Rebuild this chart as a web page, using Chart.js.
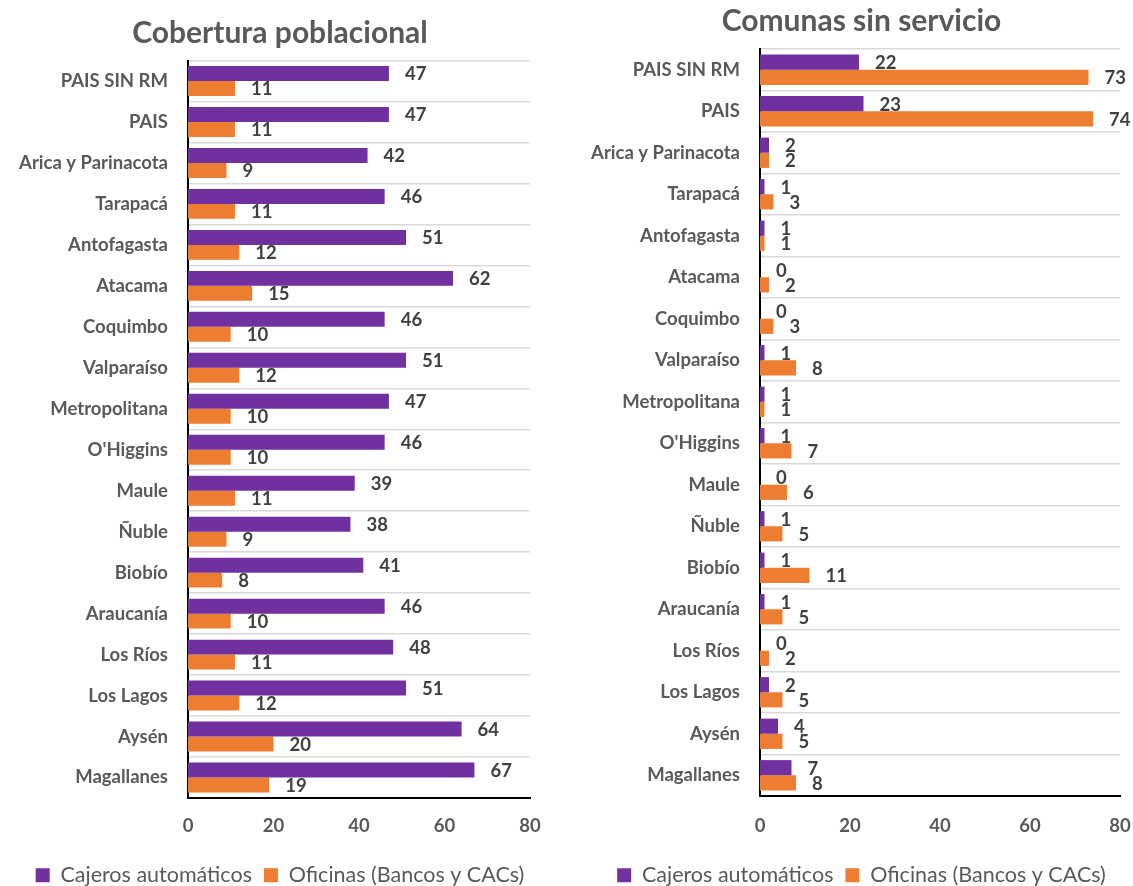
<!DOCTYPE html>
<html>
<head>
<script src="https://cdn.jsdelivr.net/npm/chart.js"></script>
<style>
  html, body { margin: 0; padding: 0; background: #fff; overflow: hidden; }
  canvas { position: absolute; top: 0; }
</style>
</head>
<body>
<canvas id="cobertura" width="560" height="896" style="left:0;"></canvas>
<canvas id="comunas" width="543" height="896" style="left:590px;"></canvas>
<script>
const regiones = ['PAIS SIN RM', 'PAIS', 'Arica y Parinacota', 'Tarapacá', 'Antofagasta', 'Atacama',
  'Coquimbo', 'Valparaíso', 'Metropolitana', "O'Higgins", 'Maule', 'Ñuble', 'Biobío', 'Araucanía',
  'Los Ríos', 'Los Lagos', 'Aysén', 'Magallanes'];

const coberturaCajeros = [47, 47, 42, 46, 51, 62, 46, 51, 47, 46, 39, 38, 41, 46, 48, 51, 64, 67];
const coberturaOficinas = [11, 11, 9, 11, 12, 15, 10, 12, 10, 10, 11, 9, 8, 10, 11, 12, 20, 19];

const comunasCajeros = [22, 23, 2, 1, 1, 0, 0, 1, 1, 1, 0, 1, 1, 1, 0, 2, 4, 7];
const comunasOficinas = [73, 74, 2, 3, 1, 2, 3, 8, 1, 7, 6, 5, 11, 5, 2, 5, 5, 8];

const xTicks = [0, 20, 40, 60, 80];

const FONT = 'Lato, "Open Sans", sans-serif';
const MORADO = '#7030A0';
const NARANJA = '#ED7D31';

// etiquetas de valor a la derecha de cada barra
const valueLabels = {
  id: 'valueLabels',
  afterDatasetsDraw(chart) {
    const ctx = chart.ctx;
    ctx.save();
    ctx.font = 'bold 18.5px ' + FONT;
    ctx.fillStyle = '#404040';
    ctx.textAlign = 'left';
    ctx.textBaseline = 'middle';
    chart.data.datasets.forEach((ds, i) => {
      chart.getDatasetMeta(i).data.forEach((bar, j) => {
        ctx.fillText(ds.data[j], bar.x + 16, bar.y + 1);
      });
    });
    ctx.restore();
  }
};

function makeChart(id, titulo, cajeros, oficinas, o) {
  return new Chart(document.getElementById(id), {
    type: 'bar',
    data: {
      labels: regiones,
      datasets: [
        { label: 'Cajeros automáticos', data: cajeros, backgroundColor: MORADO,
          categoryPercentage: 0.73, barPercentage: 1.0 },
        { label: 'Oficinas (Bancos y CACs)', data: oficinas, backgroundColor: NARANJA,
          categoryPercentage: 0.73, barPercentage: 1.0 }
      ]
    },
    options: {
      indexAxis: 'y',
      responsive: false,
      animation: false,
      devicePixelRatio: 1,
      layout: { padding: 0 },
      plugins: {
        title: {
          display: true,
          text: titulo,
          color: '#595959',
          font: { family: FONT, size: 30, weight: 'bold' },
          padding: { top: o.titleTop, bottom: o.titleBottom }
        },
        legend: {
          position: 'bottom',
          labels: {
            color: '#595959',
            font: { family: FONT, size: 21.5 },
            boxWidth: 14,
            boxHeight: 14,
            padding: 12
          }
        },
        tooltip: { enabled: false }
      },
      scales: {
        x: {
          min: 0,
          max: 80,
          afterBuildTicks: (scale) => { scale.ticks = xTicks.map(v => ({ value: v })); },
          afterFit: (scale) => { scale.height = o.xHeight; scale.paddingRight = o.padRight; },
          grid: { display: false, drawTicks: false },
          border: { color: '#000', width: 2 },
          ticks: { color: '#595959', padding: o.xPad, font: { family: FONT, size: 18.5, weight: 'bold' } }
        },
        y: {
          afterFit: (scale) => { scale.width = o.yWidth; },
          grid: { color: '#d9d9d9', lineWidth: 1.5, drawTicks: false, offset: true },
          border: { color: '#000', width: 2 },
          ticks: { color: '#595959', padding: 20, font: { family: FONT, size: 18.5, weight: 'bold' } }
        }
      }
    },
    plugins: [valueLabels]
  });
}

makeChart('cobertura', 'Cobertura poblacional', coberturaCajeros, coberturaOficinas,
  { padRight: 30, titleTop: 15, titleBottom: 9.5, xHeight: 54.5, xPad: 17, yWidth: 188 });
makeChart('comunas', 'Comunas sin servicio', comunasCajeros, comunasOficinas,
  { padRight: 13, titleTop: 3, titleBottom: 10, xHeight: 56.5, xPad: 19, yWidth: 170 });
</script>
</body>
</html>
